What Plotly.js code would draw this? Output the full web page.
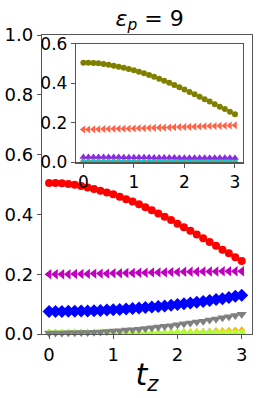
<!DOCTYPE html>
<html><head><meta charset="utf-8">
<script src="https://cdn.plot.ly/plotly-3.0.1.min.js"></script>
<style>html,body{margin:0;padding:0;background:#fff}#chart{width:258px;height:398px}</style>
</head><body><div id="chart"></div>
<script>
const tz = [0,0.1,0.2,0.3,0.4,0.5,0.6,0.7,0.8,0.9,1.0,1.1,1.2,1.3,1.4,1.5,1.6,1.7,1.8,1.9,2.0,2.1,2.2,2.3,2.4,2.5,2.6,2.7,2.8,2.9,3.0];
// main panel
const redCircle = [0.505,0.505,0.504,0.502,0.499,0.495,0.490,0.485,0.479,0.473,0.467,0.459,0.451,0.443,0.434,0.424,0.414,0.403,0.392,0.381,0.369,0.357,0.345,0.333,0.320,0.308,0.295,0.282,0.270,0.257,0.244];
const magentaTri = [0.200,0.200,0.200,0.200,0.201,0.201,0.201,0.202,0.202,0.202,0.203,0.203,0.204,0.204,0.205,0.205,0.206,0.206,0.206,0.207,0.207,0.208,0.208,0.208,0.209,0.209,0.209,0.210,0.210,0.210,0.210];
const blueDiamond = [0.075,0.075,0.075,0.076,0.076,0.077,0.077,0.078,0.079,0.080,0.081,0.082,0.084,0.085,0.087,0.089,0.090,0.092,0.094,0.096,0.099,0.101,0.104,0.106,0.109,0.112,0.115,0.118,0.122,0.126,0.130];
const grayTri = [0.003,0.003,0.003,0.004,0.004,0.005,0.005,0.006,0.007,0.008,0.010,0.011,0.013,0.014,0.016,0.018,0.021,0.023,0.026,0.028,0.031,0.034,0.037,0.040,0.043,0.047,0.050,0.054,0.058,0.062,0.066];
const orangeStar = [0.003,0.003,0.003,0.003,0.003,0.003,0.004,0.004,0.004,0.004,0.005,0.005,0.005,0.006,0.006,0.007,0.007,0.008,0.008,0.009,0.009,0.010,0.010,0.011,0.011,0.012,0.013,0.013,0.014,0.015,0.016];
const greenTri = [0.006,0.006,0.006,0.006,0.006,0.006,0.006,0.006,0.006,0.006,0.006,0.006,0.006,0.006,0.006,0.006,0.006,0.006,0.006,0.006,0.006,0.006,0.006,0.006,0.006,0.006,0.006,0.006,0.006,0.006,0.006];
const oliveSmall = [0.002,0.002,0.002,0.002,0.002,0.002,0.002,0.002,0.002,0.002,0.002,0.002,0.002,0.002,0.002,0.002,0.002,0.002,0.002,0.002,0.002,0.002,0.002,0.002,0.002,0.002,0.002,0.002,0.002,0.002,0.002];
// inset panel
const oliveCircle = [0.505,0.505,0.504,0.502,0.499,0.495,0.490,0.485,0.479,0.473,0.467,0.459,0.451,0.443,0.434,0.424,0.414,0.403,0.392,0.381,0.369,0.357,0.345,0.333,0.320,0.308,0.295,0.282,0.270,0.257,0.244];
const tomatoTri = [0.167,0.167,0.168,0.168,0.169,0.169,0.170,0.170,0.171,0.171,0.172,0.173,0.173,0.174,0.175,0.176,0.176,0.177,0.178,0.179,0.179,0.180,0.181,0.182,0.183,0.184,0.184,0.185,0.186,0.187,0.188];
const purpleTri = [0.027,0.027,0.027,0.027,0.027,0.027,0.027,0.027,0.026,0.026,0.026,0.026,0.026,0.026,0.025,0.025,0.025,0.025,0.025,0.024,0.024,0.024,0.024,0.024,0.023,0.023,0.023,0.023,0.023,0.023,0.022];
const orangeInset = [0.012,0.012,0.012,0.012,0.012,0.012,0.012,0.012,0.012,0.012,0.012,0.012,0.012,0.012,0.012,0.012,0.012,0.012,0.012,0.012,0.012,0.012,0.012,0.012,0.012,0.012,0.012,0.012,0.012,0.012,0.012];
const cyanInset = [0.006,0.006,0.006,0.006,0.006,0.006,0.006,0.006,0.006,0.006,0.006,0.006,0.006,0.006,0.006,0.006,0.006,0.006,0.006,0.006,0.006,0.006,0.006,0.006,0.006,0.006,0.006,0.006,0.006,0.006,0.006];

const xTicks = [0,1,2,3];
const yTicksMain = [0,0.2,0.4,0.6,0.8,1.0];
const yTicksInset = [0,0.2,0.4,0.6];

function tr(y, color, symbol, size, ax){
  return {x: tz, y: y, type:'scatter', mode:'markers', xaxis: ax?'x2':'x', yaxis: ax?'y2':'y',
    marker:{color:color, symbol:symbol, size:size, line:{width:0}}, showlegend:false, cliponaxis:false};
}
const data = [
  tr(oliveSmall,'#808000','triangle-up',6,false),
  tr(orangeStar,'#ffa500','triangle-up',6,false),
  tr(greenTri,'#adff2f','triangle-up',8,false),
  tr(grayTri,'#808080','triangle-down',9,false),
  tr(blueDiamond,'#0000ff','diamond',10,false),
  tr(magentaTri,'#bf00bf','triangle-left',9,false),
  tr(redCircle,'#ff0000','circle',8,false),
  tr(orangeInset,'#ff8c00','triangle-up',6,true),
  tr(cyanInset,'#00cdcd','triangle-up',7,true),
  tr(purpleTri,'#8a2be2','triangle-up',7,true),
  tr(tomatoTri,'#ff6347','triangle-left',7,true),
  tr(oliveCircle,'#808000','circle',6,true)
];
const axCommon = {showline:true, mirror:true, linecolor:'#555', linewidth:1.2, ticks:'outside', ticklen:4, tickcolor:'#555', showgrid:false, zeroline:false, fixedrange:true};
const layout = {
  width:258, height:398, margin:{l:42, r:6, t:35, b:64},
  paper_bgcolor:'#fff', plot_bgcolor:'#fff',
  font:{family:'DejaVu Sans', color:'#000'},
  title:{text:'<i>ε</i><sub><i>p</i></sub> = 9', font:{size:22, family:'DejaVu Sans'}, x:0.58, xanchor:'center', y:0.955, yanchor:'middle'},
  xaxis:Object.assign({}, axCommon, {range:[-0.11,3.16], tickvals:xTicks, ticktext:xTicks.map(String), tickfont:{size:18},
    title:{text:'<i>t</i><sub><i>z</i></sub>', font:{size:30}, standoff:0}}),
  yaxis:Object.assign({}, axCommon, {range:[0,1.0], tickvals:yTicksMain, ticktext:yTicksMain.map(v=>v.toFixed(1)), tickfont:{size:18}}),
  xaxis2:Object.assign({}, axCommon, {domain:[0.162,0.955], anchor:'y2', range:[-0.145,3.15], tickvals:xTicks, ticktext:xTicks.map(String), tickfont:{size:17}}),
  yaxis2:Object.assign({}, axCommon, {domain:[0.574,0.970], anchor:'x2', range:[0,0.6], tickvals:yTicksInset, ticktext:yTicksInset.map(v=>v.toFixed(1)), tickfont:{size:17}})
};
Plotly.newPlot('chart', data, layout, {staticPlot:true, displayModeBar:false});
</script></body></html>
